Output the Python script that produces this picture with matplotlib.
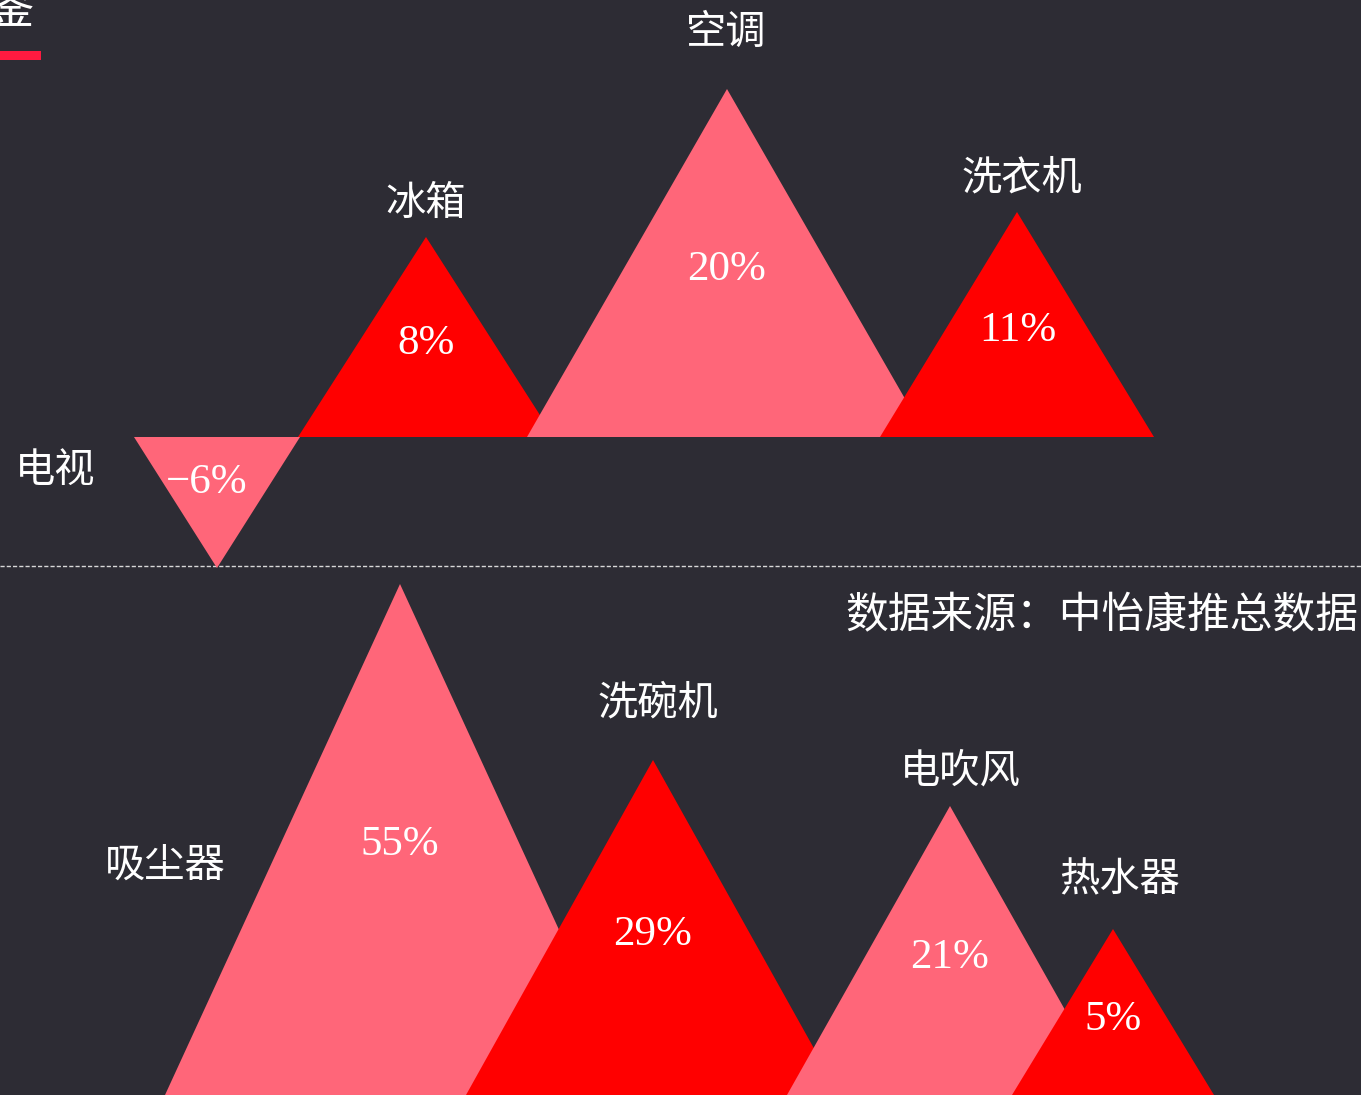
import matplotlib
matplotlib.use("Agg")
import matplotlib.pyplot as plt
from matplotlib.patches import Polygon, Rectangle

# ---------------- data ----------------
top_categories = ["电视", "冰箱", "空调", "洗衣机"]
top_values = [-6, 8, 20, 11]                 # growth, %
bottom_categories = ["吸尘器", "洗碗机", "电吹风", "热水器"]
bottom_values = [55, 29, 21, 5]              # growth, %
source_text = "数据来源：中怡康推总数据"

# visual peak heights / half-widths of the triangles (chart units)
top_heights = [131, 200, 348, 225]
top_halfw = [83, 128, 200, 137]
top_centers = [217, 426, 727, 1017]
bottom_heights = [511, 335, 289, 166]
bottom_halfw = [235, 187, 163, 101]
bottom_centers = [400, 653, 950, 1113]

# ---------------- style ----------------
BG = "#2d2c34"
PINK = "#ff6679"
RED = "#ff0000"
CJK = ["Noto Sans CJK SC", "DejaVu Sans"]
NUM = ["Liberation Serif", "DejaVu Serif"]

W, H = 1361, 1095
fig = plt.figure(figsize=(W / 100, H / 100), dpi=100, facecolor=BG)
ax = fig.add_axes([0, 0, 1, 1])
ax.set_facecolor(BG)
ax.set_xlim(0, W)
ax.set_ylim(0, H)
ax.axis("off")

top_base = H - 437
bot_base = 0

def tri(cx, base, h, hw, color, z):
    poly = Polygon([(cx - hw, base), (cx + hw, base), (cx, base + h)],
                   closed=True, facecolor=color, edgecolor="none", zorder=z)
    ax.add_patch(poly)

colors = [PINK, RED, PINK, RED]

# label anchor points (pixels from top-left)
top_label_pos = [(55, 470), (426, 203), (726, 32), (1022, 178)]
top_num_pos = [(207, 483), (426, 344), (727, 270), (1018, 331)]
bot_label_pos = [(165, 865), (658, 703), (960, 771), (1120, 880)]
bot_num_pos = [(400, 845), (653, 935), (950, 958), (1113, 1020)]

# top panel
for i, (c, v, h, hw, cx) in enumerate(zip(top_categories, top_values, top_heights, top_halfw, top_centers)):
    sign = 1 if v >= 0 else -1
    tri(cx, top_base, sign * h, hw, colors[i], 2 + i)
    lbl = f"{v}%".replace("-", "−")
    nx, ny = top_num_pos[i]
    ax.text(nx, H - ny, lbl, ha="center", va="center", color="white",
            fontsize=31, family=NUM, zorder=10)
    lx, ly = top_label_pos[i]
    ax.text(lx, H - ly, c, ha="center", va="center", color="white",
            fontsize=29, family=CJK, zorder=10)

# bottom panel
for i, (c, v, h, hw, cx) in enumerate(zip(bottom_categories, bottom_values, bottom_heights, bottom_halfw, bottom_centers)):
    tri(cx, bot_base, h, hw, colors[i], 2 + i)
    nx, ny = bot_num_pos[i]
    ax.text(nx, H - ny, f"{v}%", ha="center", va="center", color="white",
            fontsize=31, family=NUM, zorder=10)
    lx, ly = bot_label_pos[i]
    ax.text(lx, H - ly, c, ha="center", va="center", color="white",
            fontsize=29, family=CJK, zorder=10)

# divider
ax.plot([0, W], [H - 566, H - 566], color="#d8d8d8", lw=1, ls=(0, (3, 1.5)), zorder=1)

# source
ax.text(W - 3, H - 616, source_text, ha="right", va="center", color="white",
        fontsize=30.8, family=CJK, zorder=10)

# title fragment (mostly outside canvas) and red underline
ax.text(10, H - 10, "鉴", ha="center", va="center", color="white", fontsize=34,
        family=CJK, zorder=10, clip_on=True)
ax.add_patch(Rectangle((0, H - 60), 41, 9, facecolor="#ff1a40", edgecolor="none", zorder=10))

fig.savefig("out.png", dpi=100, facecolor=BG)
